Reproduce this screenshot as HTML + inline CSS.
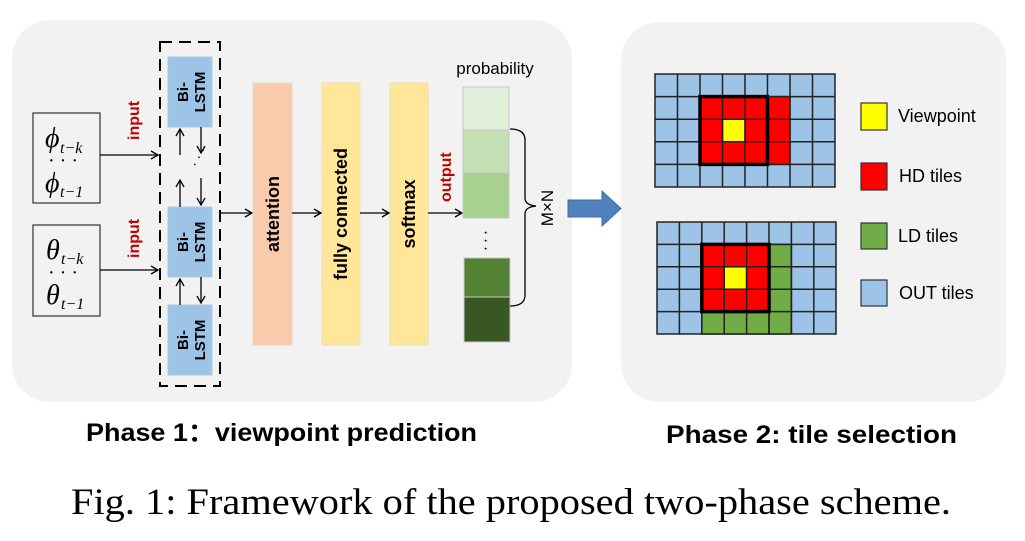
<!DOCTYPE html>
<html><head><meta charset="utf-8"><style>
html,body{margin:0;padding:0;background:#fff}
svg{display:block}
.b{font-family:"Liberation Sans",sans-serif;font-weight:bold}
.s{font-family:"Liberation Sans",sans-serif}
</style></head><body>
<svg width="1025" height="541" viewBox="0 0 1025 541" xmlns="http://www.w3.org/2000/svg">
<defs>
<marker id="a" markerWidth="10" markerHeight="10" refX="8" refY="5" orient="auto" markerUnits="userSpaceOnUse"><path d="M1,1 L8,5 L1,9" fill="none" stroke="#000" stroke-width="1.3"/></marker>
</defs>
<rect x="12" y="20" width="560" height="382" rx="38" fill="#f2f2f2"/>
<rect x="621" y="22" width="385" height="380" rx="38" fill="#f2f2f2"/>

<rect x="33" y="113" width="67" height="90" fill="none" stroke="#333" stroke-width="1.2"/>
<rect x="33" y="225" width="67" height="91" fill="none" stroke="#333" stroke-width="1.2"/>
<g font-family="Liberation Serif,serif" font-style="italic">
<text x="45" y="147" font-size="28">ϕ</text><text x="60" y="153" font-size="16">t−k</text>
<text x="48" y="167" font-size="20" font-style="normal">· · ·</text>
<text x="45" y="192" font-size="28">ϕ</text><text x="60" y="197" font-size="16">t−1</text>
<text x="46" y="259" font-size="28">θ</text><text x="61" y="264" font-size="16">t−k</text>
<text x="48" y="279" font-size="20" font-style="normal">· · ·</text>
<text x="46" y="304" font-size="28">θ</text><text x="61" y="309" font-size="16">t−1</text>
</g>
<line x1="100" y1="155" x2="158" y2="155" stroke="#000" stroke-width="1.2" marker-end="url(#a)"/>
<line x1="100" y1="270" x2="158" y2="270" stroke="#000" stroke-width="1.2" marker-end="url(#a)"/>
<text class="b" font-size="16" fill="#c00000" transform="translate(139,140) rotate(-90)">input</text>
<text class="b" font-size="16" fill="#c00000" transform="translate(139,258) rotate(-90)">input</text>

<rect x="160" y="42" width="60" height="344" fill="none" stroke="#000" stroke-width="2" stroke-dasharray="12,7"/>
<g fill="#9dc3e6" stroke="#b0c8dd">
<rect x="168" y="57" width="44" height="70"/>
<rect x="168" y="207" width="44" height="70"/>
<rect x="168" y="305" width="44" height="70"/>
</g>
<g class="b" font-size="15" fill="#000">
<text transform="translate(188,92) rotate(-90)" text-anchor="middle">Bi-</text>
<text transform="translate(205,92) rotate(-90)" text-anchor="middle">LSTM</text>
<text transform="translate(188,242) rotate(-90)" text-anchor="middle">Bi-</text>
<text transform="translate(205,242) rotate(-90)" text-anchor="middle">LSTM</text>
<text transform="translate(188,340) rotate(-90)" text-anchor="middle">Bi-</text>
<text transform="translate(205,340) rotate(-90)" text-anchor="middle">LSTM</text>
</g>
<g stroke="#000" stroke-width="1.3">
<line x1="180" y1="155" x2="180" y2="129" marker-end="url(#a)"/>
<line x1="201" y1="127" x2="201" y2="153" marker-end="url(#a)"/>
<line x1="180" y1="207" x2="180" y2="180" marker-end="url(#a)"/>
<line x1="201" y1="178" x2="201" y2="205" marker-end="url(#a)"/>
<line x1="180" y1="305" x2="180" y2="279" marker-end="url(#a)"/>
<line x1="201" y1="277" x2="201" y2="303" marker-end="url(#a)"/>
</g>
<text x="188" y="172" font-size="14" transform="rotate(-60 190 162)">· · ·</text>
<line x1="220" y1="213" x2="252" y2="213" stroke="#000" stroke-width="1.2" marker-end="url(#a)"/>

<rect x="253" y="83" width="39" height="262" fill="#f8cbad" stroke="#e6d6cc"/>
<rect x="322" y="83" width="38" height="262" fill="#ffe699" stroke="#eadfb5"/>
<rect x="390" y="83" width="38" height="262" fill="#ffe699" stroke="#eadfb5"/>
<text class="b" font-size="18" transform="translate(279,214) rotate(-90)" text-anchor="middle">attention</text>
<text class="b" font-size="18" transform="translate(347,214) rotate(-90)" text-anchor="middle">fully connected</text>
<text class="b" font-size="18" transform="translate(415,214) rotate(-90)" text-anchor="middle">softmax</text>
<line x1="292" y1="213" x2="321" y2="213" stroke="#000" stroke-width="1.2" marker-end="url(#a)"/>
<line x1="360" y1="213" x2="389" y2="213" stroke="#000" stroke-width="1.2" marker-end="url(#a)"/>
<line x1="428" y1="213" x2="462" y2="213" stroke="#000" stroke-width="1.2" marker-end="url(#a)"/>
<text class="b" font-size="16" fill="#c00000" transform="translate(451,202) rotate(-90)">output</text>

<text class="s" x="495" y="74" font-size="17" text-anchor="middle">probability</text>
<g stroke="#c8c8c8">
<rect x="463" y="87" width="46" height="43" fill="#e2efda"/>
<rect x="463" y="130" width="46" height="43" fill="#c5e0b4"/>
<rect x="463" y="173" width="46" height="45" fill="#a9d18e"/>
<rect x="464" y="258" width="46" height="39" fill="#548235"/>
<rect x="464" y="297" width="46" height="45" fill="#385723"/>
</g>
<text x="483" y="238" font-size="16">·</text><text x="483" y="246" font-size="16">·</text><text x="483" y="254" font-size="16">·</text>
<path d="M510,129 Q525,129 525,140 L525,198 Q525,205 536,206 Q525,207 525,214 L525,295 Q525,306 510,306" fill="none" stroke="#000" stroke-width="1.3"/>
<text class="s" font-size="17" transform="translate(553,208) rotate(-90)" text-anchor="middle">M×N</text>

<path d="M568,200 L602,200 L602,191 L621,208.5 L602,226 L602,217 L568,217 Z" fill="#4f81bd" stroke="#41719c"/>

<g stroke="#222" stroke-width="1.5">
<rect x="655" y="74" width="180" height="113" fill="#9dc3e6"/>
<rect x="700" y="96.6" width="90" height="67.8" fill="#ff0000"/>
<rect x="722.5" y="119.2" width="22.5" height="22.6" fill="#ffff00"/>
<path d="M677.5,74V187M700,74V187M722.5,74V187M745,74V187M767.5,74V187M790,74V187M812.5,74V187M655,96.6H835M655,119.2H835M655,141.8H835M655,164.4H835" fill="none"/>
<rect x="700" y="96.6" width="67.5" height="67.8" fill="none" stroke="#000" stroke-width="3.5"/>
<rect x="657" y="222" width="179" height="112" fill="#9dc3e6"/>
<rect x="769" y="244.4" width="22.4" height="89.6" fill="#70ad47"/>
<rect x="701.8" y="311.6" width="67.2" height="22.4" fill="#70ad47"/>
<rect x="701.8" y="244.4" width="67.2" height="67.2" fill="#ff0000"/>
<rect x="724.2" y="266.8" width="22.4" height="22.4" fill="#ffff00"/>
<path d="M679.4,222V334M701.8,222V334M724.2,222V334M746.6,222V334M769,222V334M791.4,222V334M813.8,222V334M657,244.4H836M657,266.8H836M657,289.2H836M657,311.6H836" fill="none"/>
<rect x="701.8" y="244.4" width="67.2" height="67.2" fill="none" stroke="#000" stroke-width="3.5"/>
</g>

<g stroke="#333" stroke-width="1.2">
<rect x="861" y="103" width="26" height="27" fill="#ffff00"/>
<rect x="861" y="163" width="26" height="27" fill="#ff0000"/>
<rect x="861" y="223" width="26" height="26" fill="#70ad47"/>
<rect x="861" y="280" width="26" height="26" fill="#9dc3e6"/>
</g>
<g class="s" font-size="18">
<text x="898" y="122">Viewpoint</text>
<text x="899" y="182">HD tiles</text>
<text x="898" y="242">LD tiles</text>
<text x="899" y="299">OUT tiles</text>
</g>

<text class="b" x="86" y="441" font-size="25" textLength="391" lengthAdjust="spacingAndGlyphs">Phase 1：viewpoint prediction</text>
<text class="b" x="666" y="443" font-size="25" textLength="291" lengthAdjust="spacingAndGlyphs">Phase 2:  tile selection</text>
<text x="71" y="514" font-family="Liberation Serif,serif" font-size="37" textLength="880" lengthAdjust="spacingAndGlyphs">Fig. 1: Framework of the proposed two-phase scheme.</text>
</svg>
</body></html>
